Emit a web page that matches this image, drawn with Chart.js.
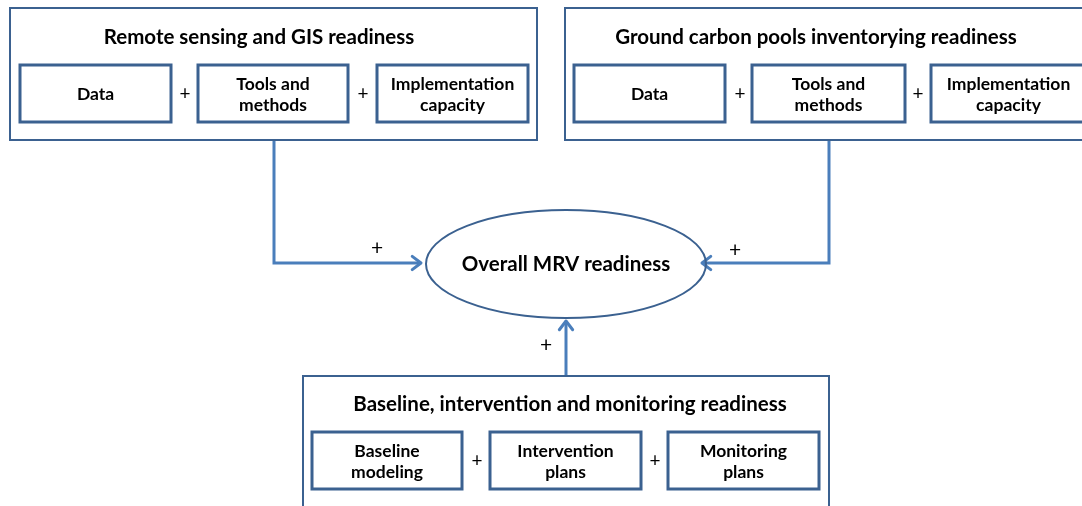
<!DOCTYPE html>
<html>
<head>
<meta charset="utf-8">
<script src="https://cdn.jsdelivr.net/npm/chart.js@4.4.1/dist/chart.umd.min.js"></script>
<style>
  body { margin: 0; background: #fff; }
  #wrap { width: 1082px; height: 506px; }
</style>
</head>
<body>
<div id="wrap"><canvas id="diagram" width="1082" height="506"></canvas></div>
<script>
// Textos del diagrama
const groupTitles = [
    'Remote sensing and GIS readiness',
    'Ground carbon pools inventorying readiness',
    'Baseline, intervention and monitoring readiness'
];
const groupItems = [
    [['Data'], ['Tools and', 'methods'], ['Implementation', 'capacity']],
    [['Data'], ['Tools and', 'methods'], ['Implementation', 'capacity']],
    [['Baseline', 'modeling'], ['Intervention', 'plans'], ['Monitoring', 'plans']]
];
const centerLabel = 'Overall MRV readiness';
const joinSign = '+';

// Disposición en unidades de los ejes (0..1082 x 0..506)
const groupBoxes = [
    { x0: 10, y0: 8, x1: 537, y1: 140 },
    { x0: 565, y0: 8, x1: 1092, y1: 140 },
    { x0: 303, y0: 376, x1: 829, y1: 516 }
];
const itemRows = [
    { y0: 65, y1: 122, xs: [[20, 171], [198, 348], [377, 528]], plus: [185, 363], titleX: 259, titleY: 37 },
    { y0: 65, y1: 122, xs: [[574, 725], [752, 905], [931, 1086]], plus: [740, 918], titleX: 816, titleY: 37 },
    { y0: 432, y1: 489, xs: [[312, 462], [490, 641], [668, 819]], plus: [477, 655], titleX: 570, titleY: 404 }
];
const ellipse = { cx: 566, cy: 264, rx: 140, ry: 54 };

// Conectores (flechas hacia la elipse)
const connectorLeft = [{ x: 274, y: 140 }, { x: 274, y: 263 }, { x: 421, y: 263 }];
const connectorRight = [{ x: 829, y: 140 }, { x: 829, y: 263 }, { x: 702, y: 263 }];
const connectorBottom = [{ x: 566, y: 376 }, { x: 566, y: 321 }];
const connectorPlus = [{ x: 377, y: 248 }, { x: 735, y: 250 }, { x: 546, y: 345 }];

const boxColor = '#3b6190';
const lineColor = '#4a7ebb';
const fontFamily = 'Lato, "Open Sans", sans-serif';

const diagramPlugin = {
    id: 'diagram',
    afterDatasetsDraw(chart) {
        const ctx = chart.ctx;
        const sx = chart.scales.x, sy = chart.scales.y;
        const px = v => sx.getPixelForValue(v);
        const py = v => sy.getPixelForValue(v);
        ctx.save();

        // cabezas de flecha
        chart.data.datasets.forEach(ds => {
            const n = ds.data.length;
            const a = ds.data[n - 2], b = ds.data[n - 1];
            const ang = Math.atan2(py(b.y) - py(a.y), px(b.x) - px(a.x));
            ctx.strokeStyle = lineColor;
            ctx.lineWidth = 3;
            ctx.lineCap = 'round';
            ctx.lineJoin = 'round';
            ctx.beginPath();
            ctx.moveTo(px(b.x) - 11 * Math.cos(ang - 0.65), py(b.y) - 11 * Math.sin(ang - 0.65));
            ctx.lineTo(px(b.x), py(b.y));
            ctx.lineTo(px(b.x) - 11 * Math.cos(ang + 0.65), py(b.y) - 11 * Math.sin(ang + 0.65));
            ctx.stroke();
        });

        ctx.fillStyle = '#000';
        ctx.textAlign = 'center';
        ctx.textBaseline = 'middle';
        ctx.lineCap = 'butt';
        ctx.lineJoin = 'miter';

        groupBoxes.forEach((g, i) => {
            ctx.strokeStyle = boxColor;
            ctx.lineWidth = 2;
            ctx.strokeRect(px(g.x0), py(g.y0), px(g.x1) - px(g.x0), py(g.y1) - py(g.y0));

            const row = itemRows[i];
            ctx.font = 'bold 20.5px ' + fontFamily;
            ctx.fillText(groupTitles[i], px(row.titleX), py(row.titleY));

            row.xs.forEach((xr, j) => {
                ctx.lineWidth = 3;
                ctx.strokeRect(px(xr[0]), py(row.y0), px(xr[1]) - px(xr[0]), py(row.y1) - py(row.y0));
                const lines = groupItems[i][j];
                const cx = (px(xr[0]) + px(xr[1])) / 2;
                const cy = (py(row.y0) + py(row.y1)) / 2 + 1;
                ctx.font = 'bold 17.5px ' + fontFamily;
                lines.forEach((t, k) => {
                    ctx.fillText(t, cx, cy + (k - (lines.length - 1) / 2) * 21);
                });
            });
            ctx.font = '19px ' + fontFamily;
            row.plus.forEach(x => ctx.fillText(joinSign, px(x), py((row.y0 + row.y1) / 2)));
        });

        // elipse central
        ctx.strokeStyle = boxColor;
        ctx.lineWidth = 2;
        ctx.beginPath();
        ctx.ellipse(px(ellipse.cx), py(ellipse.cy),
            px(ellipse.cx + ellipse.rx) - px(ellipse.cx),
            Math.abs(py(ellipse.cy + ellipse.ry) - py(ellipse.cy)), 0, 0, Math.PI * 2);
        ctx.stroke();
        ctx.font = 'bold 20.5px ' + fontFamily;
        ctx.fillText(centerLabel, px(ellipse.cx), py(ellipse.cy));

        ctx.font = '21px ' + fontFamily;
        connectorPlus.forEach(p => ctx.fillText(joinSign, px(p.x), py(p.y)));
        ctx.restore();
    }
};

function connector(points) {
    return {
        data: points,
        showLine: true,
        borderColor: lineColor,
        borderWidth: 3,
        pointRadius: 0,
        borderJoinStyle: 'miter',
        fill: false
    };
}

new Chart(document.getElementById('diagram'), {
    type: 'scatter',
    data: {
        datasets: [connector(connectorLeft), connector(connectorRight), connector(connectorBottom)]
    },
    options: {
        responsive: false,
        animation: false,
        layout: { padding: 0 },
        plugins: { legend: { display: false }, tooltip: { enabled: false } },
        scales: {
            x: { type: 'linear', min: 0, max: 1082, display: false },
            y: { type: 'linear', min: 0, max: 506, reverse: true, display: false }
        }
    },
    plugins: [diagramPlugin]
});
</script>
</body>
</html>
